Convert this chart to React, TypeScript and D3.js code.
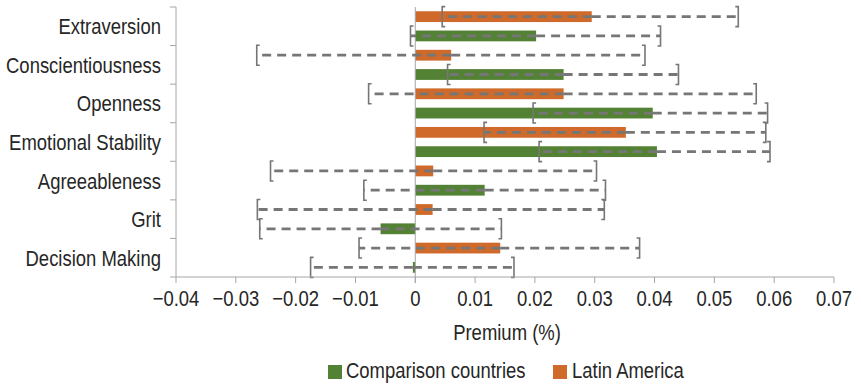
import React from "react";
import * as d3 from "d3";

const categories = [
  "Extraversion",
  "Conscientiousness",
  "Openness",
  "Emotional Stability",
  "Agreeableness",
  "Grit",
  "Decision Making",
];
const seriesNames = ["Latin America", "Comparison countries"];
const latinAmerica = [0.0295, 0.006, 0.0248, 0.0352, 0.003, 0.0029, 0.0142];
const latinLower = [0.0045, -0.0265, -0.0078, 0.0115, -0.0242, -0.0264, -0.0094];
const latinUpper = [0.054, 0.0384, 0.057, 0.0586, 0.0303, 0.0316, 0.0375];
const comparison = [0.0202, 0.0248, 0.0397, 0.0404, 0.0116, -0.0058, -0.0004];
const compLower = [-0.0008, 0.0054, 0.0197, 0.0207, -0.0086, -0.026, -0.0175];
const compUpper = [0.041, 0.044, 0.0589, 0.0593, 0.0318, 0.0144, 0.0165];
const xTicks = [-0.04, -0.03, -0.02, -0.01, 0, 0.01, 0.02, 0.03, 0.04, 0.05, 0.06, 0.07];

const W = 861;
const H = 385;
const left = 176;
const right = 834;
const top = 7;
const bottom = 277;
const colors: Record<string, string> = {
  "Latin America": "#CF6A2B",
  "Comparison countries": "#548235",
};
const FONT = "'Liberation Sans', Arial, sans-serif";
const TEXT = "#262626";
const AXIS = "#A6A6A6";
const ERR = "#767676";
const SX = 0.84;

function NText(props: { x: number; y: number; anchor?: string; children: React.ReactNode }) {
  return (
    <text
      transform={`translate(${props.x},${props.y}) scale(${SX},1)`}
      textAnchor={props.anchor || "start"}
      fontSize={22}
      fill={TEXT}
    >
      {props.children}
    </text>
  );
}

export default function App() {
  const x = d3.scaleLinear().domain([-0.04, 0.07]).range([left, right]);
  const y = d3.scaleBand<string>().domain(categories).range([top, bottom]).padding(0);
  const sub = d3
    .scaleBand<string>()
    .domain(seriesNames)
    .range([0, y.bandwidth()])
    .paddingInner(0.44)
    .paddingOuter(0.22);

  const rows = categories.flatMap((c, i) => [
    { cat: c, s: "Latin America", v: latinAmerica[i], lo: latinLower[i], hi: latinUpper[i] },
    { cat: c, s: "Comparison countries", v: comparison[i], lo: compLower[i], hi: compUpper[i] },
  ]);

  const fmt = (d: number) => (d === 0 ? "0" : d3.format(".2f")(d).replace("-", "\u2013"));
  const capH = 10;
  const stub = 3;

  return (
    <svg
      width={W}
      height={H}
      style={{ position: "absolute", left: 0, top: 0, background: "#fff" }}
      fontFamily={FONT}
    >
      {rows.map((r, i) => {
        const yy = (y(r.cat) as number) + (sub(r.s) as number);
        const x0 = x(Math.min(0, r.v));
        const x1 = x(Math.max(0, r.v));
        return (
          <rect
            key={"b" + i}
            x={x0}
            y={yy}
            width={Math.max(1, x1 - x0)}
            height={sub.bandwidth()}
            fill={colors[r.s]}
          />
        );
      })}

      <line x1={x(0)} x2={x(0)} y1={top} y2={bottom + 6} stroke={AXIS} strokeWidth={1} />

      {rows.map((r, i) => {
        const cy = (y(r.cat) as number) + (sub(r.s) as number) + sub.bandwidth() / 2;
        const xv = x(r.v);
        const xl = x(r.lo);
        const xh = x(r.hi);
        return (
          <g key={"e" + i}>
            <line x1={xv} x2={xh} y1={cy} y2={cy} stroke={ERR} strokeWidth={2.8} strokeDasharray="9,6" />
            <line x1={xv} x2={xl} y1={cy} y2={cy} stroke={ERR} strokeWidth={2.8} strokeDasharray="9,6" />
            <path
              d={`M${xl + stub},${cy - capH}H${xl}V${cy + capH}H${xl + stub}`}
              fill="none"
              stroke={ERR}
              strokeWidth={1.6}
            />
            <path
              d={`M${xh - stub},${cy - capH}H${xh}V${cy + capH}H${xh - stub}`}
              fill="none"
              stroke={ERR}
              strokeWidth={1.6}
            />
          </g>
        );
      })}

      <line x1={left} x2={left} y1={top} y2={bottom} stroke={AXIS} strokeWidth={1} />
      {[...categories.map((c) => y(c) as number), bottom].map((t, i) => (
        <line key={"yt" + i} x1={left - 6} x2={left} y1={t} y2={t} stroke={AXIS} strokeWidth={1} />
      ))}
      {categories.map((c) => (
        <NText key={"yl" + c} x={161} y={(y(c) as number) + y.bandwidth() / 2 + 8} anchor="end">
          {c}
        </NText>
      ))}

      <line x1={left} x2={right} y1={bottom} y2={bottom} stroke={AXIS} strokeWidth={1} />
      {xTicks.map((t) => (
        <g key={"xt" + t}>
          <line x1={x(t)} x2={x(t)} y1={bottom} y2={bottom + 6} stroke={AXIS} strokeWidth={1} />
          <NText x={x(t)} y={306} anchor="middle">
            {fmt(t)}
          </NText>
        </g>
      ))}
      <NText x={507} y={340} anchor="middle">
        Premium (%)
      </NText>

      <rect x={328} y={365} width={14} height={14} fill={colors["Comparison countries"]} />
      <NText x={346} y={378}>Comparison countries</NText>
      <rect x={553} y={365} width={14} height={14} fill={colors["Latin America"]} />
      <NText x={572} y={378}>Latin America</NText>
    </svg>
  );
}
